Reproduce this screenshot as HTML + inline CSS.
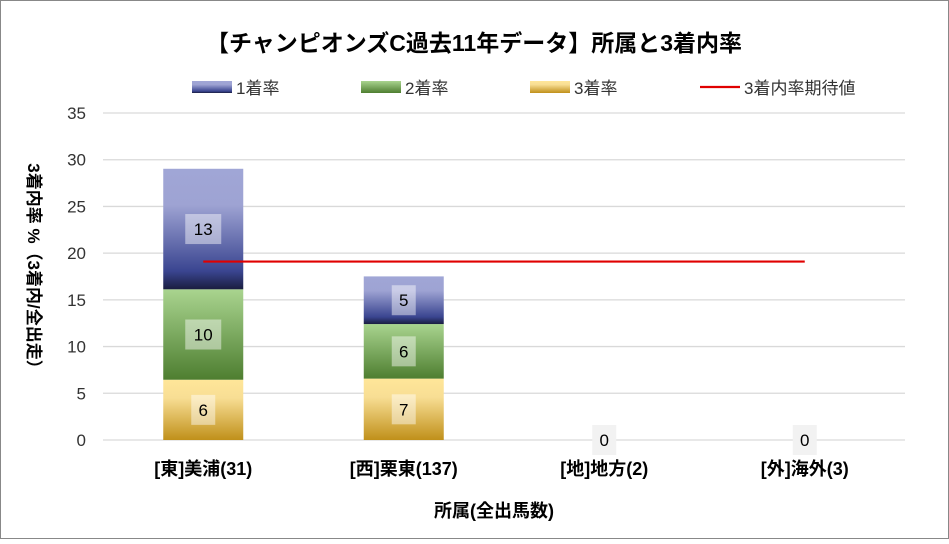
<!DOCTYPE html>
<html><head><meta charset="utf-8"><style>
body{margin:0;background:#fff}
svg text{font-family:"Liberation Sans","Noto Sans CJK JP",sans-serif}
</style></head><body>
<svg id="c" width="949" height="539" viewBox="0 0 949 539" xmlns="http://www.w3.org/2000/svg">
<defs>
<linearGradient id="gb" x1="0" y1="0" x2="0" y2="1"><stop offset="0" stop-color="#a0a6d6"/><stop offset="0.3" stop-color="#9ea3d3"/><stop offset="0.85" stop-color="#3a4590"/><stop offset="1" stop-color="#1a1d40"/></linearGradient>
<linearGradient id="gg" x1="0" y1="0" x2="0" y2="1"><stop offset="0" stop-color="#a9d48f"/><stop offset="1" stop-color="#4e7e30"/></linearGradient>
<linearGradient id="gy" x1="0" y1="0" x2="0" y2="1"><stop offset="0" stop-color="#ffe699"/><stop offset="0.3" stop-color="#f8de94"/><stop offset="1" stop-color="#c0901a"/></linearGradient>
</defs>
<rect x="0.5" y="0.5" width="948" height="538" fill="#fff" stroke="#888"/>
<text x="474" y="51" text-anchor="middle" font-size="23" font-weight="bold" fill="#000">【チャンピオンズC過去11年データ】所属と3着内率</text>
<g id="legend" font-size="17" fill="#333"></g>
<g id="grid"></g><g id="bars"></g><g id="labels"></g>
<text transform="translate(28,270) rotate(90)" text-anchor="middle" font-size="17" font-weight="bold" fill="#000">3着内率 %（3着内/全出走）</text>
<text x="494" y="517" text-anchor="middle" font-size="18" font-weight="bold" fill="#000">所属(全出馬数)</text>
</svg>
<script>
const categories=["[東]美浦(31)","[西]栗東(137)","[地]地方(2)","[外]海外(3)"];
const rate1=[12.9,5.1,0,0];
const rate2=[9.68,5.84,0,0];
const rate3=[6.45,6.57,0,0];
const label1=["13","5","",""];
const label2=["10","6","",""];
const label3=["6","7","0","0"];
const expected=19.1;
const yTicks=[0,5,10,15,20,25,30,35];
const NS="http://www.w3.org/2000/svg";
const x0=103,x1=905,yb=440,yt=113,ymax=35;
const y=v=>yb-(yb-yt)*v/ymax;
const bw=(x1-x0)/categories.length;
const cx=i=>x0+bw*(i+0.5);
function mk(p,t,a){const e=document.createElementNS(NS,t);for(const k in a)e.setAttribute(k,a[k]);document.getElementById(p).appendChild(e);return e;}
yTicks.forEach(t=>{
 const l=mk('grid','line',{x1:x0,x2:x1,y1:y(t),y2:y(t),stroke:'#d9d9d9','stroke-width':1.3});
 
 
 const tx=mk('grid','text',{x:86,y:y(t)+6,'text-anchor':'end','font-size':17,fill:'#333'});tx.textContent=t;
 
 
});
const series=[[rate3,'url(#gy)',label3],[rate2,'url(#gg)',label2],[rate1,'url(#gb)',label1]];
categories.forEach((c,i)=>{
 let base=0;
 series.forEach(([d,f,lab],s)=>{
  const v=d[i];
  if(v>0){const r=mk('bars','rect',{x:cx(i)-40,y:y(base+v),width:80,height:y(base)-y(base+v),fill:f});
   
   }
  if(lab[i]!==""){
   const my=y(base+v/2);const w=lab[i].length>1?36:24;
   const bg=mk('labels','rect',{x:cx(i)-w/2,y:my-15,width:w,height:30,fill:v>0?'rgba(255,255,255,0.45)':'#f2f2f2'});
   
   
   const t=mk('labels','text',{x:cx(i),y:my+6,'text-anchor':'middle','font-size':17,fill:'#000'});t.textContent=lab[i];
   
   
  }
  base+=v;
 });
 const t=mk('labels','text',{x:cx(i),y:475,'text-anchor':'middle','font-size':18,'font-weight':'bold',fill:'#000'});t.textContent=c;
 
 
});
const ln=mk('labels','line',{x1:cx(0),x2:cx(3),y1:y(expected),y2:y(expected),stroke:'#e00000','stroke-width':2.2});


const leg=[['url(#gb)','1着率',192],['url(#gg)','2着率',361],['url(#gy)','3着率',530]];
leg.forEach(([f,t,x])=>{
 const r=mk('legend','rect',{x:x,y:81,width:40,height:12,fill:f});
 
 
 const tx=mk('legend','text',{x:x+44,y:94,'font-size':17,fill:'#333'});tx.textContent=t;
 
 
});
const ll=mk('legend','line',{x1:700,x2:740,y1:87,y2:87,stroke:'#e00000','stroke-width':2.2});


const lt=mk('legend','text',{x:744,y:94,'font-size':17,fill:'#333'});lt.textContent='3着内率期待値';


</script>
</body></html>
